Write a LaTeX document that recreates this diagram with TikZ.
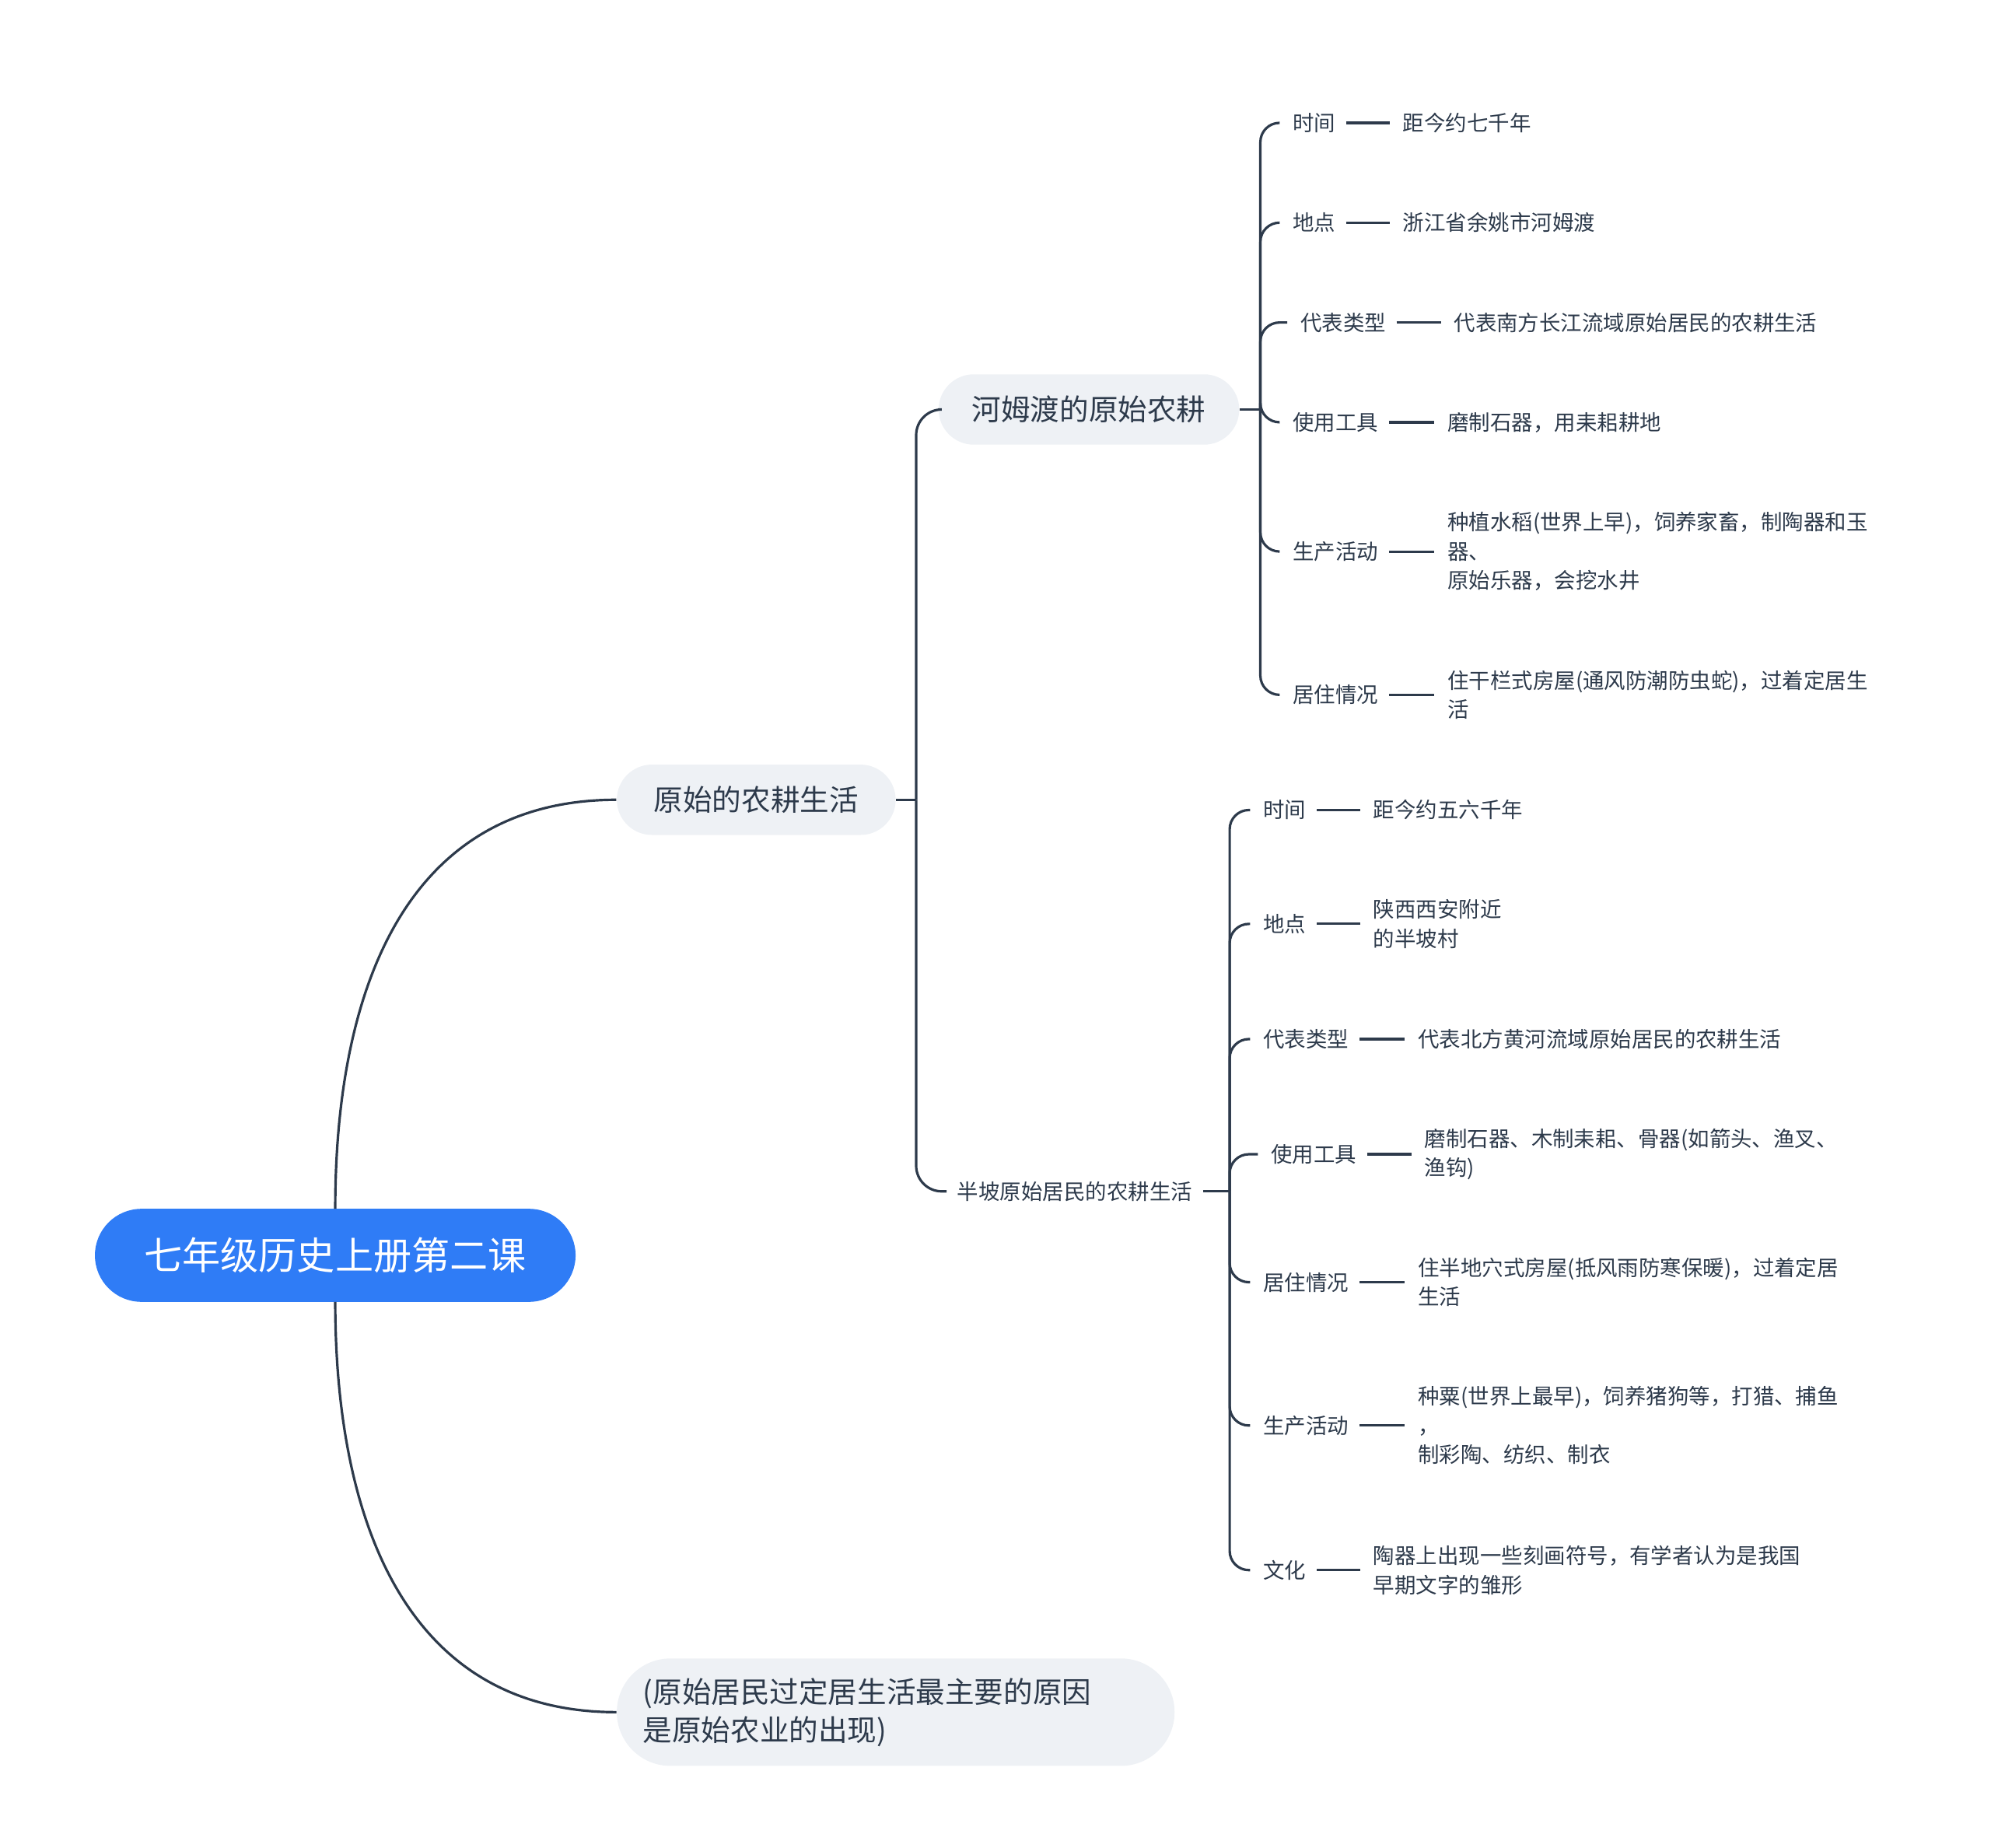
\documentclass[tikz,border=0pt]{standalone}
\usepackage{fontspec}
\setmainfont{Noto Sans CJK SC}
\usetikzlibrary{positioning}
\definecolor{linec}{HTML}{2D3A4B}
\definecolor{rootc}{HTML}{2F7CF6}
\definecolor{boxc}{HTML}{EEF1F5}
\tikzset{
    root/.style={
           rectangle, rounded corners=0.72cm,
           fill=rootc, draw=rootc, text=white,
           minimum width=7.5cm, minimum height=1.44cm,
           font=\fontsize{17}{20}\selectfont,
           },
    topic/.style={
           rectangle, rounded corners=0.55cm,
           fill=boxc, text=linec,
           minimum height=1.1cm,
           font=\fontsize{13}{17}\selectfont,
           },
    leaf/.style={
           anchor=west, inner sep=0pt, text=linec,
           font=\fontsize{9.5}{13}\selectfont,
           },
    val/.style={
           leaf, align=left,
           },
    conn/.style={draw=linec, line width=1.1pt},
    bracket/.style={conn, rounded corners=0.3cm},
}
\begin{document}
\begin{tikzpicture}[x=0.02cm,y=-0.02cm]
 \useasboundingbox (0,0) rectangle (1556,1444);

 % root and first level
 \node[root] (root) at (262,981) {七年级历史上册第二课};
 \node[topic, minimum width=4.36cm] (farm) at (591,625) {原始的农耕生活};
 \node[topic, minimum width=8.72cm, minimum height=1.68cm, rounded corners=0.84cm,
  align=left, text width=7.9cm] (reason) at (700,1338)
  {(原始居民过定居生活最主要的原因\\是原始农业的出现)};

 % second level
 \node[topic, minimum width=4.7cm] (hemudu) at (851,320) {河姆渡的原始农耕};
 \node[leaf, anchor=center] (banpo) at (840,931) {半坡原始居民的农耕生活};

 % Hemudu leaves
 \node[leaf] (h1) at (1010,96) {时间};
 \node[val]  (h1v) at (1096,96) {距今约七千年};
 \node[leaf] (h2) at (1010,174) {地点};
 \node[val]  (h2v) at (1096,174) {浙江省余姚市河姆渡};
 \node[leaf] (h3) at (1016,252) {代表类型};
 \node[val]  (h3v) at (1136,252) {代表南方长江流域原始居民的农耕生活};
 \node[leaf] (h4) at (1010,330) {使用工具};
 \node[val]  (h4v) at (1131,330) {磨制石器，用耒耜耕地};
 \node[leaf] (h5) at (1010,431) {生产活动};
 \node[val]  (h5v) at (1131,431) {种植水稻(世界上早)，饲养家畜，制陶器和玉\\器、\\原始乐器，会挖水井};
 \node[leaf] (h6) at (1010,543) {居住情况};
 \node[val]  (h6v) at (1131,543) {住干栏式房屋(通风防潮防虫蛇)，过着定居生\\活};

 % Banpo leaves
 \node[leaf] (b1) at (987,633) {时间};
 \node[val]  (b1v) at (1073,633) {距今约五六千年};
 \node[leaf] (b2) at (987,722) {地点};
 \node[val]  (b2v) at (1073,722) {陕西西安附近\\的半坡村};
 \node[leaf] (b3) at (987,812) {代表类型};
 \node[val]  (b3v) at (1108,812) {代表北方黄河流域原始居民的农耕生活};
 \node[leaf] (b4) at (993,902) {使用工具};
 \node[val]  (b4v) at (1113,902) {磨制石器、木制耒耜、骨器(如箭头、渔叉、\\渔钩)};
 \node[leaf] (b5) at (987,1002) {居住情况};
 \node[val]  (b5v) at (1108,1002) {住半地穴式房屋(抵风雨防寒保暖)，过着定居\\生活};
 \node[leaf] (b6) at (987,1114) {生产活动};
 \node[val]  (b6v) at (1108,1114) {种粟(世界上最早)，饲养猪狗等，打猎、捕鱼\\，\\制彩陶、纺织、制衣};
 \node[leaf] (b7) at (987,1227) {文化};
 \node[val]  (b7v) at (1073,1227) {陶器上出现一些刻画符号，有学者认为是我国\\早期文字的雏形};

 % root branches
 \draw[conn] (root.north) to[out=90,in=180,looseness=1.1] (farm.west);
 \draw[conn] (root.south) to[out=-90,in=180,looseness=1.1] (reason.west);

 % second level branches
 \coordinate (farmj) at (716,625);
 \draw[conn] (farm.east) -- (farmj);
 \draw[bracket, rounded corners=0.4cm] (farmj) |- (hemudu.west);
 \draw[bracket, rounded corners=0.4cm] (farmj) |- ([xshift=-0.16cm]banpo.west);

 % leaf branches
 \coordinate (hemj) at (985,320);
 \draw[conn] (hemudu.east) -- (hemj);
 \foreach \n in {h1,h2,h3,h4,h5,h6}
  \draw[bracket] (hemj) |- ([xshift=-0.2cm]\n.west);

 \coordinate (banj) at (961,931);
 \draw[conn] ([xshift=0.16cm]banpo.east) -- (banj);
 \foreach \n in {b1,b2,b3,b4,b5,b6,b7}
  \draw[bracket] (banj) |- ([xshift=-0.2cm]\n.west);

 \foreach \n in {h1,h2,h3,h4,h5,h6,b1,b2,b3,b4,b5,b6,b7}
  \draw[conn, shorten >=0.2cm, shorten <=0.16cm] (\n.east) -- (\n v.west |- \n.east);
\end{tikzpicture}
\end{document}
